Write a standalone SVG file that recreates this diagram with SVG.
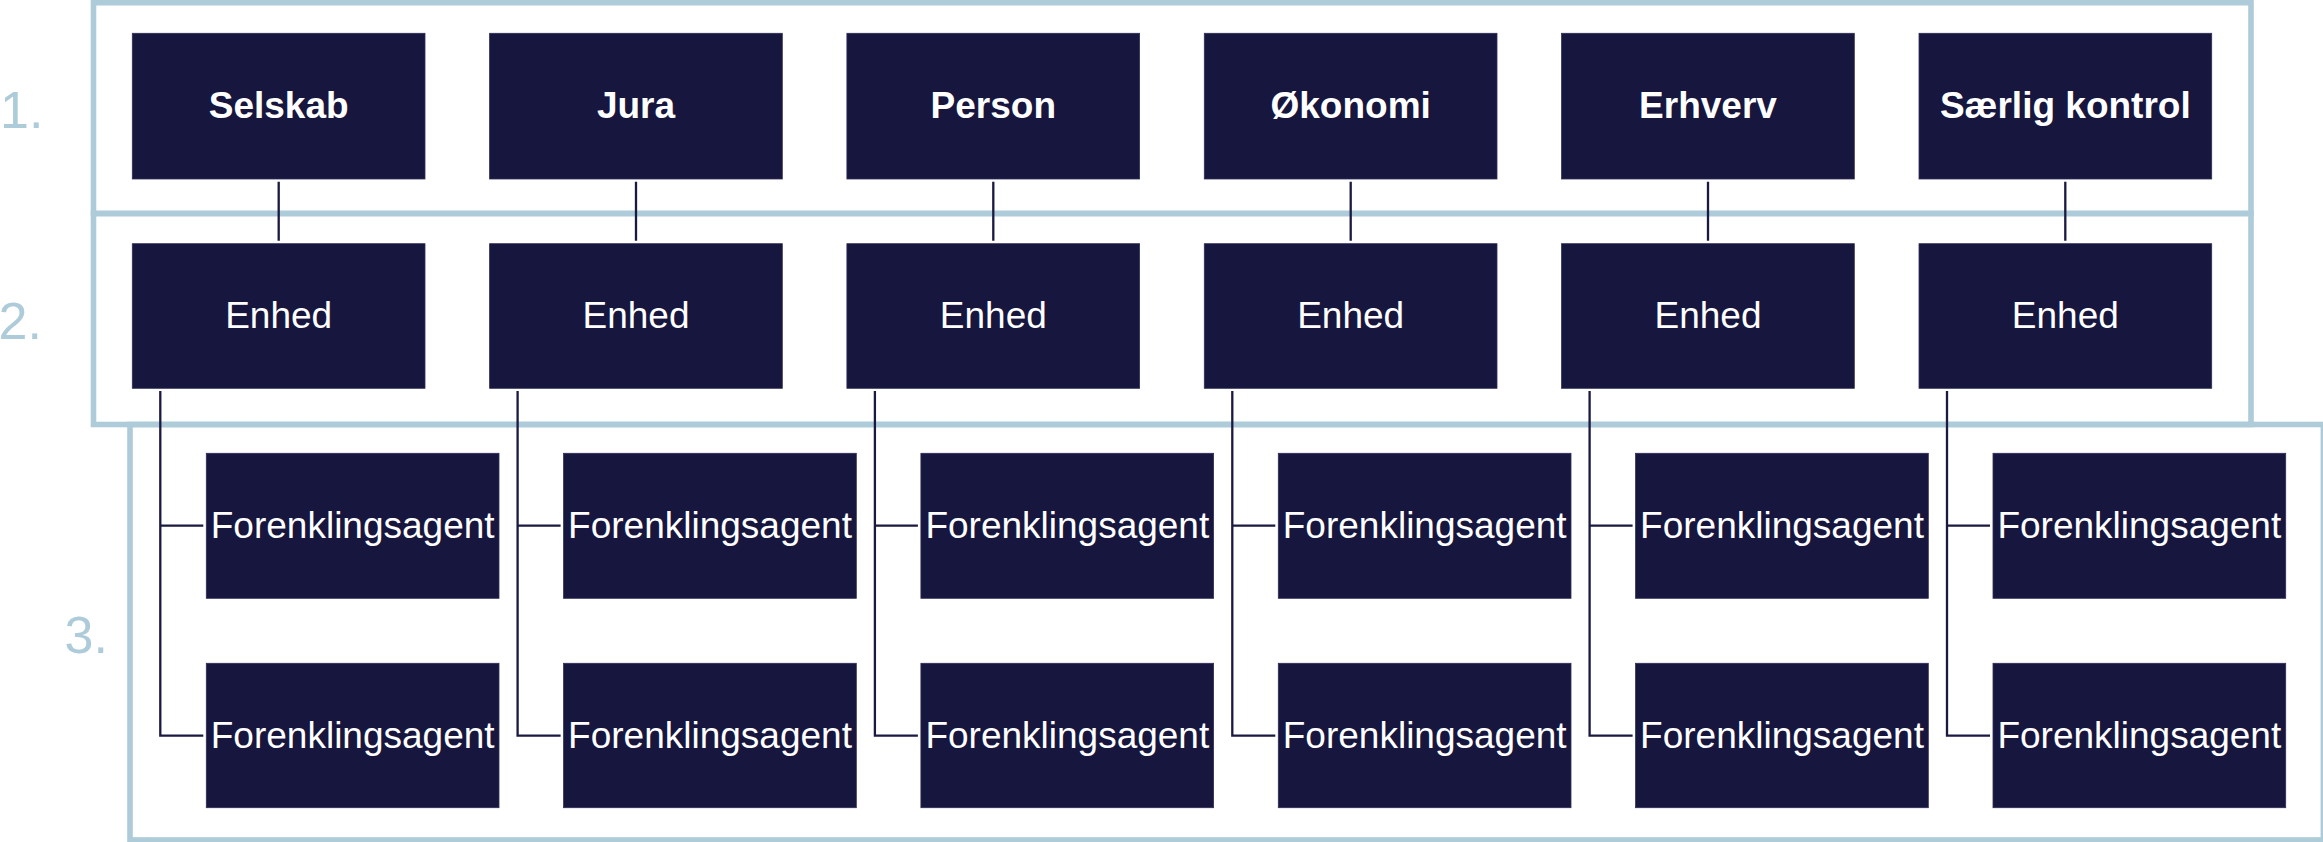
<svg xmlns="http://www.w3.org/2000/svg" width="2323" height="842" viewBox="0 0 2323 842">
<style>
.frame{fill:none;stroke:#aecbd9;stroke-width:5.6}
.box{fill:#17163e;stroke:#2e2d55;stroke-width:0.8}
.lbl{font-family:"Liberation Sans",Arial,sans-serif;font-size:37px;fill:#ffffff;text-anchor:middle}
.b{font-weight:bold}
.num{font-family:"Liberation Sans",Arial,sans-serif;font-size:52px;fill:#aecbd9}
.con{fill:none;stroke:#1a1940;stroke-width:2.3}
</style>
<rect width="2323" height="842" fill="#ffffff"/>
<g id="frames">
<rect class="frame" x="93.5" y="2.7" width="2157.5" height="210.8"/>
<rect class="frame" x="93.5" y="213.5" width="2157.5" height="211"/>
<rect class="frame" x="130" y="424.5" width="2193.4" height="415.5"/>
</g>
<g id="levels">
<text class="num" x="0" y="127.7">1.</text>
<text class="num" x="-1.5" y="339">2.</text>
<text class="num" x="64.5" y="652.7">3.</text>
</g>
<g id="connectors">
<path class="con" d="M278.7,181.7V240.7M636,181.7V240.7M993.3,181.7V240.7M1350.7,181.7V240.7M1708,181.7V240.7M2065.3,181.7V240.7"/>
<path class="con" d="M160.3,391V735.7H203.3M160.3,525.7H203.3"/>
<path class="con" d="M517.6,391V735.7H560.6M517.6,525.7H560.6"/>
<path class="con" d="M874.9,391V735.7H917.9M874.9,525.7H917.9"/>
<path class="con" d="M1232.3,391V735.7H1275.3M1232.3,525.7H1275.3"/>
<path class="con" d="M1589.6,391V735.7H1632.6M1589.6,525.7H1632.6"/>
<path class="con" d="M1947,391V735.7H1990M1947,525.7H1990"/>
</g>
<g id="selskab"><rect class="box" x="132.3" y="33.3" width="292.7" height="145.7"/><text class="lbl b" x="278.7" y="117.7">Selskab</text></g>
<g id="jura"><rect class="box" x="489.6" y="33.3" width="292.7" height="145.7"/><text class="lbl b" x="636" y="117.7">Jura</text></g>
<g id="person"><rect class="box" x="846.9" y="33.3" width="292.7" height="145.7"/><text class="lbl b" x="993.3" y="117.7">Person</text></g>
<g id="okonomi"><rect class="box" x="1204.3" y="33.3" width="292.7" height="145.7"/><text class="lbl b" x="1350.7" y="117.7">Økonomi</text></g>
<g id="erhverv"><rect class="box" x="1561.6" y="33.3" width="292.7" height="145.7"/><text class="lbl b" x="1708" y="117.7">Erhverv</text></g>
<g id="saerlig"><rect class="box" x="1919" y="33.3" width="292.7" height="145.7"/><text class="lbl b" x="2065.3" y="117.7">Særlig kontrol</text></g>
<g id="enhed1"><rect class="box" x="132.3" y="243.7" width="292.7" height="144.6"/><text class="lbl" x="278.7" y="327.7">Enhed</text></g>
<g id="enhed2"><rect class="box" x="489.6" y="243.7" width="292.7" height="144.6"/><text class="lbl" x="636" y="327.7">Enhed</text></g>
<g id="enhed3"><rect class="box" x="846.9" y="243.7" width="292.7" height="144.6"/><text class="lbl" x="993.3" y="327.7">Enhed</text></g>
<g id="enhed4"><rect class="box" x="1204.3" y="243.7" width="292.7" height="144.6"/><text class="lbl" x="1350.7" y="327.7">Enhed</text></g>
<g id="enhed5"><rect class="box" x="1561.6" y="243.7" width="292.7" height="144.6"/><text class="lbl" x="1708" y="327.7">Enhed</text></g>
<g id="enhed6"><rect class="box" x="1919" y="243.7" width="292.7" height="144.6"/><text class="lbl" x="2065.3" y="327.7">Enhed</text></g>
<g id="agent1a"><rect class="box" x="206.3" y="453.3" width="292.7" height="145"/><text class="lbl" x="352.7" y="537.7">Forenklingsagent</text></g>
<g id="agent1b"><rect class="box" x="206.3" y="663.3" width="292.7" height="144.4"/><text class="lbl" x="352.7" y="747.5">Forenklingsagent</text></g>
<g id="agent2a"><rect class="box" x="563.6" y="453.3" width="292.7" height="145"/><text class="lbl" x="710" y="537.7">Forenklingsagent</text></g>
<g id="agent2b"><rect class="box" x="563.6" y="663.3" width="292.7" height="144.4"/><text class="lbl" x="710" y="747.5">Forenklingsagent</text></g>
<g id="agent3a"><rect class="box" x="920.9" y="453.3" width="292.7" height="145"/><text class="lbl" x="1067.3" y="537.7">Forenklingsagent</text></g>
<g id="agent3b"><rect class="box" x="920.9" y="663.3" width="292.7" height="144.4"/><text class="lbl" x="1067.3" y="747.5">Forenklingsagent</text></g>
<g id="agent4a"><rect class="box" x="1278.3" y="453.3" width="292.7" height="145"/><text class="lbl" x="1424.7" y="537.7">Forenklingsagent</text></g>
<g id="agent4b"><rect class="box" x="1278.3" y="663.3" width="292.7" height="144.4"/><text class="lbl" x="1424.7" y="747.5">Forenklingsagent</text></g>
<g id="agent5a"><rect class="box" x="1635.6" y="453.3" width="292.7" height="145"/><text class="lbl" x="1782" y="537.7">Forenklingsagent</text></g>
<g id="agent5b"><rect class="box" x="1635.6" y="663.3" width="292.7" height="144.4"/><text class="lbl" x="1782" y="747.5">Forenklingsagent</text></g>
<g id="agent6a"><rect class="box" x="1993" y="453.3" width="292.7" height="145"/><text class="lbl" x="2139.3" y="537.7">Forenklingsagent</text></g>
<g id="agent6b"><rect class="box" x="1993" y="663.3" width="292.7" height="144.4"/><text class="lbl" x="2139.3" y="747.5">Forenklingsagent</text></g>
</svg>
